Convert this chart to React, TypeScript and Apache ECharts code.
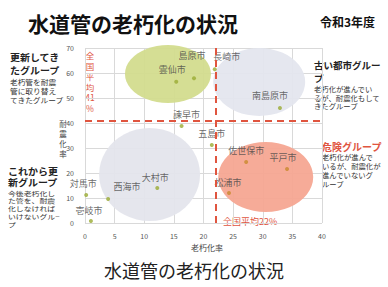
import React, { useEffect, useRef } from "react";
import * as echarts from "echarts";

const cityNames = ["長崎市", "島原市", "雲仙市", "南島原市", "諫早市", "五島市", "佐世保市", "平戸市", "松浦市", "大村市", "西海市", "対馬市", "壱岐市"];
const agingRate = [21.9, 18.4, 15.4, 32.9, 16.3, 21.4, 27.2, 34.1, 24.3, 12.2, 3.9, 0.2, 1.0];
const quakeRate = [61.5, 57.9, 56.5, 46.0, 38.8, 31.2, 24.4, 21.6, 12.0, 14.0, 9.6, 11.2, 0.8];

const groupNames = ["更新してきたグループ", "古い都市グループ", "これから更新グループ", "危険グループ"];
const groupAging = [14.0, 29.4, 10.9, 30.5];
const groupQuake = [59.6, 56.4, 19.4, 18.4];

const avgAging = 22;
const avgQuake = 41;

const xTicks = [0, 5, 10, 15, 20, 25, 30, 35, 40];
const yTicks = [0, 10, 20, 30, 40, 50, 60, 70];

// styles / layout (not data)
const groupStyle: Record<string, { size: number[]; color: string }> = {
  "更新してきたグループ": { size: [86, 58], color: "#d3dc8e" },
  "古い都市グループ": { size: [92, 68], color: "#e4e6ee" },
  "これから更新グループ": { size: [101, 93], color: "#e4e5ec" },
  "危険グループ": { size: [95, 70], color: "#f5a792" },
};
const labelOffset: Record<string, number[]> = {
  "長崎市": [12, -13], "島原市": [-2, -23], "雲仙市": [-4, -12], "南島原市": [-10, -13],
  "諫早市": [5, -12], "五島市": [0, -12], "佐世保市": [0, -12], "平戸市": [-4, -12],
  "松浦市": [-1, -11], "大村市": [-2, -11], "西海市": [19, -13], "対馬市": [-3, -12], "壱岐市": [-2, -11],
};
const dotColor: Record<string, string> = {
  "佐世保市": "#c98a2e", "平戸市": "#c98a2e", "松浦市": "#c98a2e",
};

const FONT = "'Noto Sans CJK JP', 'Noto Sans', sans-serif";
const RED = "#e0553f";

export default function App() {
  const ref = useRef<HTMLDivElement>(null);
  useEffect(() => {
    document.body.style.margin = "0";
    const chart = echarts.init(ref.current!, null, { renderer: "svg" });
    const txt = (text: string, x: number, y: number, fontSize: number, opts: any = {}) => ({
      type: "text",
      x,
      y,
      scaleX: opts.sx || 1,
      silent: true,
      style: {
        text,
        fontSize,
        fontFamily: FONT,
        fill: opts.fill || "#222",
        fontWeight: opts.bold ? "bold" : "normal",
        lineHeight: opts.lh || fontSize + 2,
        align: opts.align || "left",
        verticalAlign: opts.va || "top",
      },
    });
    chart.setOption({
      animation: false,
      backgroundColor: "#fff",
      textStyle: { fontFamily: FONT },
      grid: { left: 85, right: 66, top: 48, bottom: 64 },
      xAxis: {
        type: "value",
        min: xTicks[0],
        max: xTicks[xTicks.length - 1],
        interval: 5,
        axisLine: { show: false },
        axisTick: { show: false },
        axisLabel: { fontSize: 7, color: "#555", margin: 9 },
        splitLine: { lineStyle: { color: "#d9d9d9", width: 1 } },
      },
      yAxis: {
        type: "value",
        min: yTicks[0],
        max: yTicks[yTicks.length - 1],
        interval: 10,
        axisLine: { show: false },
        axisTick: { show: false },
        axisLabel: { fontSize: 7, color: "#555", margin: 11 },
        splitLine: { lineStyle: { color: "#d9d9d9", width: 1 } },
      },
      series: [
        {
          type: "scatter",
          silent: true,
          z: 1,
          data: groupNames.map((n, i) => ({
            name: n,
            value: [groupAging[i], groupQuake[i]],
            symbolSize: groupStyle[n].size,
            itemStyle: { color: groupStyle[n].color, opacity: 0.95 },
          })),
        },
        {
          type: "scatter",
          z: 3,
          symbolSize: 4,
          data: cityNames.map((n, i) => ({
            name: n,
            value: [agingRate[i], quakeRate[i]],
            itemStyle: { color: dotColor[n] || "#9aab33" },
            label: {
              show: true,
              position: "inside",
              offset: labelOffset[n],
              formatter: n,
              fontSize: 9,
              color: "#444",
              fontFamily: FONT,
            },
          })),
          markLine: {
            silent: true,
            symbol: "none",
            label: { show: false },
            lineStyle: { color: RED, width: 2, type: [7, 5] },
            data: [{ xAxis: avgAging }, { yAxis: avgQuake }],
          },
        },
      ],
      graphic: [
        txt("水道管の老朽化の状況", 28, 23, 21, { bold: true, va: "middle", fill: "#111" }),
        txt("令和3年度", 320, 21, 12, { bold: true, va: "middle", fill: "#111" }),
        txt("更新してき\nたグループ", 10, 50.5, 9.5, { bold: true, lh: 13, sx: 1.05 }),
        txt("老朽管を耐震\n管に取り替え\nてきたグループ", 10, 77.5, 7, { lh: 9, fill: "#333", sx: 1.1 }),
        txt("これから更\n新グループ", 8, 165, 9.5, { bold: true, lh: 11.6, sx: 1.05 }),
        txt("今後老朽化し\nた管を、耐震\n化しなければ\nいけないグル−\nプ", 8, 189, 6.2, { lh: 7.8, fill: "#333", sx: 1.27 }),
        txt("古い都市グルー\nプ", 314, 58.5, 9.5, { bold: true, lh: 13 }),
        txt("老朽化が進んでい\nるが、耐震化もして\nきたグループ", 314, 85, 7, { lh: 8.6, fill: "#333", sx: 1.05 }),
        txt("危険グループ", 322, 146, 10, { bold: true, va: "middle", fill: RED }),
        txt("老朽化が進んで\nいるが、耐震化が\n進んでいないグ\nループ", 322, 152.5, 7, { lh: 9, fill: "#333", sx: 1.05 }),
        txt("全\n国\n平\n均\n41\n%", 90, 50, 8.5, { lh: 10.5, align: "center", fill: RED }),
        txt("全国平均22%", 223, 221, 9, { va: "middle", fill: RED }),
        txt("老朽化率", 207, 247, 8, { align: "center", va: "middle", fill: "#444" }),
        txt("耐\n震\n化\n率", 63, 119, 7.5, { align: "center", lh: 9.8, fill: "#444" }),
        txt("水道管の老朽化の状況", 194, 270, 18, { align: "center", va: "middle", fill: "#222" }),
      ],
    });
    return () => chart.dispose();
  }, []);
  return <div ref={ref} style={{ width: 388, height: 287 }} />;
}
